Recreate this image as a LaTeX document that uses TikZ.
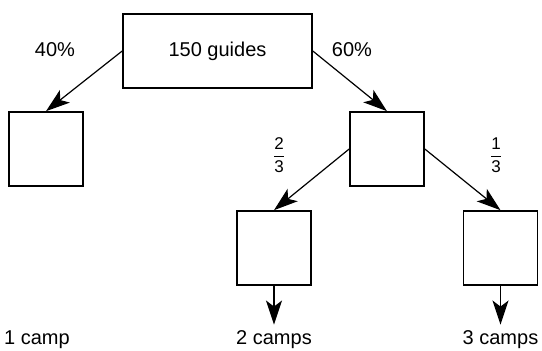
\documentclass[tikz,border=0pt]{standalone}
\usepackage{amsmath}
\usepackage{fontspec}
\setmainfont{Liberation Sans}
\usetikzlibrary{
    arrows.meta % Stealth tips for the branches.
}

\begin{document}
\begin{tikzpicture}[%
        x = 1pt,
        y = 1pt,
        line cap = round,
        box/.style = {draw, line width = 0.8pt, minimum width = 37pt,
                      minimum height = 37pt, inner sep = 0pt},
        lbl/.style = {font = \fontsize{10pt}{12pt}\selectfont, inner sep = 1pt},
        frac/.style = {font = \fontsize{8.5pt}{10pt}\selectfont, inner sep = 0pt},
        branch/.style = {line width = 0.6pt,
                         -{Stealth[length = 12pt, width = 8pt, inset = 3pt]}}
    ]

        % Fix the page to the size of the reference.
        \useasboundingbox (0, 0) rectangle (271, 175.5);

        % The boxes of the tree.
        \node[box, minimum width = 94.5pt] (guides) at (108.75, 150) {};
        \node[box] (one) at (23, 101) {};
        \node[box] (split) at (193.5, 101) {};
        \node[box] (two) at (137, 51.5) {};
        \node[box] (three) at (250.25, 51.5) {};

        % Text of the top box.
        \node[lbl] (total) at (guides) {150 guides};

        % Labels on the branches.
        \node[lbl] (pleft) at (27.5, 150.5) {40\%};
        \node[lbl] (pright) at (176, 150.5) {60\%};
        \node[frac] (ftwo) at (139.5, 98) {$\dfrac{\text{2}}{\text{3}}$};
        \node[frac] (fone) at (248, 98) {$\dfrac{\text{1}}{\text{3}}$};

        % Labels at the leaves.
        \node[lbl] (campone) at (18.5, 5.5) {1 camp};
        \node[lbl] (camptwo) at (137, 5.5) {2 camps};
        \node[lbl] (campthree) at (250.25, 5.5) {3 camps};

        % Connect the boxes.
        \draw[branch] (guides.west) to (one.north);
        \draw[branch] (guides.east) to (split.north);
        \draw[branch] (split.west) to (two.north);
        \draw[branch] (split.east) to (three.north);
        \draw[branch] (two.south) to ([yshift = 2pt]camptwo.north);
        \draw[branch] (three.south) to ([yshift = 2pt]campthree.north);
    \end{tikzpicture}
\end{document}
